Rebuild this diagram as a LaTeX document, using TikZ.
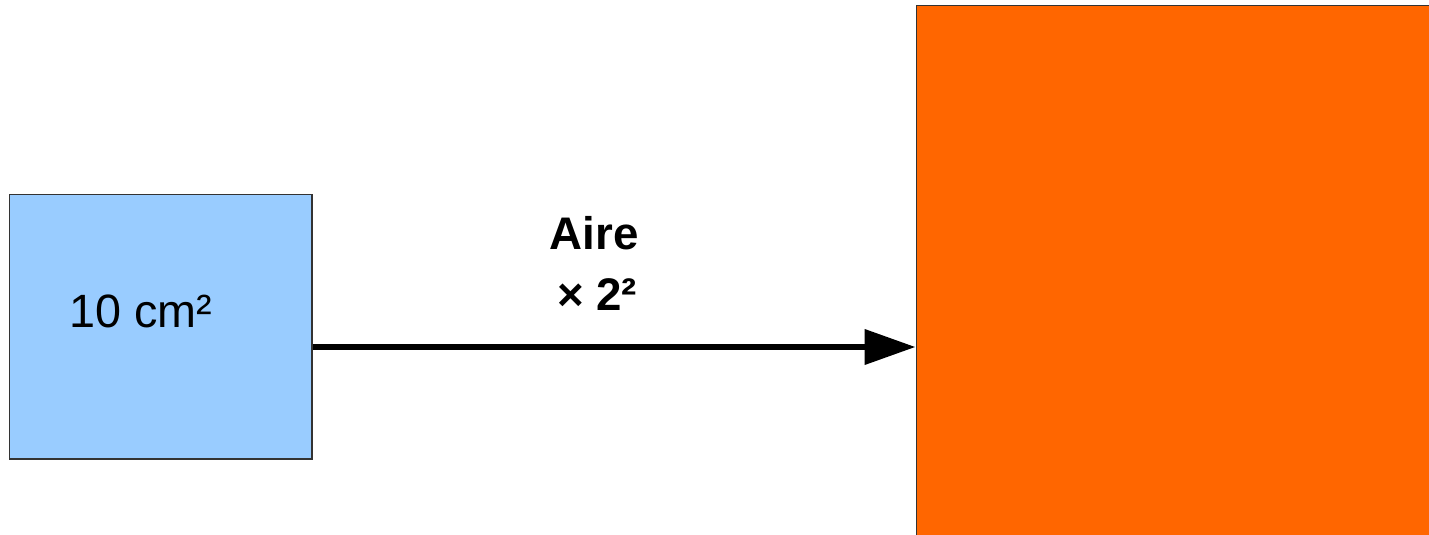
\documentclass[tikz,border=0pt]{standalone}
\usepackage{fontspec}
\setmainfont{Liberation Sans}
\usetikzlibrary{calc,arrows.meta}

\definecolor{petitbleu}{HTML}{99CCFF}
\definecolor{grandorange}{HTML}{FF6600}

\begin{document}
\begin{tikzpicture}[x=0.02cm,y=-0.02cm]
            \useasboundingbox (0,0) rectangle (1429,534);

            % les deux figures
            \node (P) at (160.5,326.5) [draw=black!80, line width=0.6pt, fill=petitbleu,
                minimum width=6.06cm, minimum height=5.3cm, inner sep=0pt] {};
            \node (G) at (1178,275) [draw=black!80, line width=0.6pt, fill=grandorange,
                minimum width=10.48cm, minimum height=10.8cm, inner sep=0pt] {};

            \node (aireP) at (141,327) [anchor=base, font=\fontsize{26.6}{32}\selectfont] {10 cm²};

            % la fleche
            \coordinate (m) at (0,347);
            \draw [line width=3.6pt, -{Triangle[length=29pt, width=19.5pt]}]
                (P.east |- m) -- (G.west |- m);

            \node (aire) at (594,249) [anchor=base, font=\fontsize{26}{31}\selectfont\bfseries] {Aire};
            \node (fois) at (597,310) [anchor=base, font=\fontsize{26}{31}\selectfont\bfseries] {× 2²};

        \end{tikzpicture}
\end{document}
